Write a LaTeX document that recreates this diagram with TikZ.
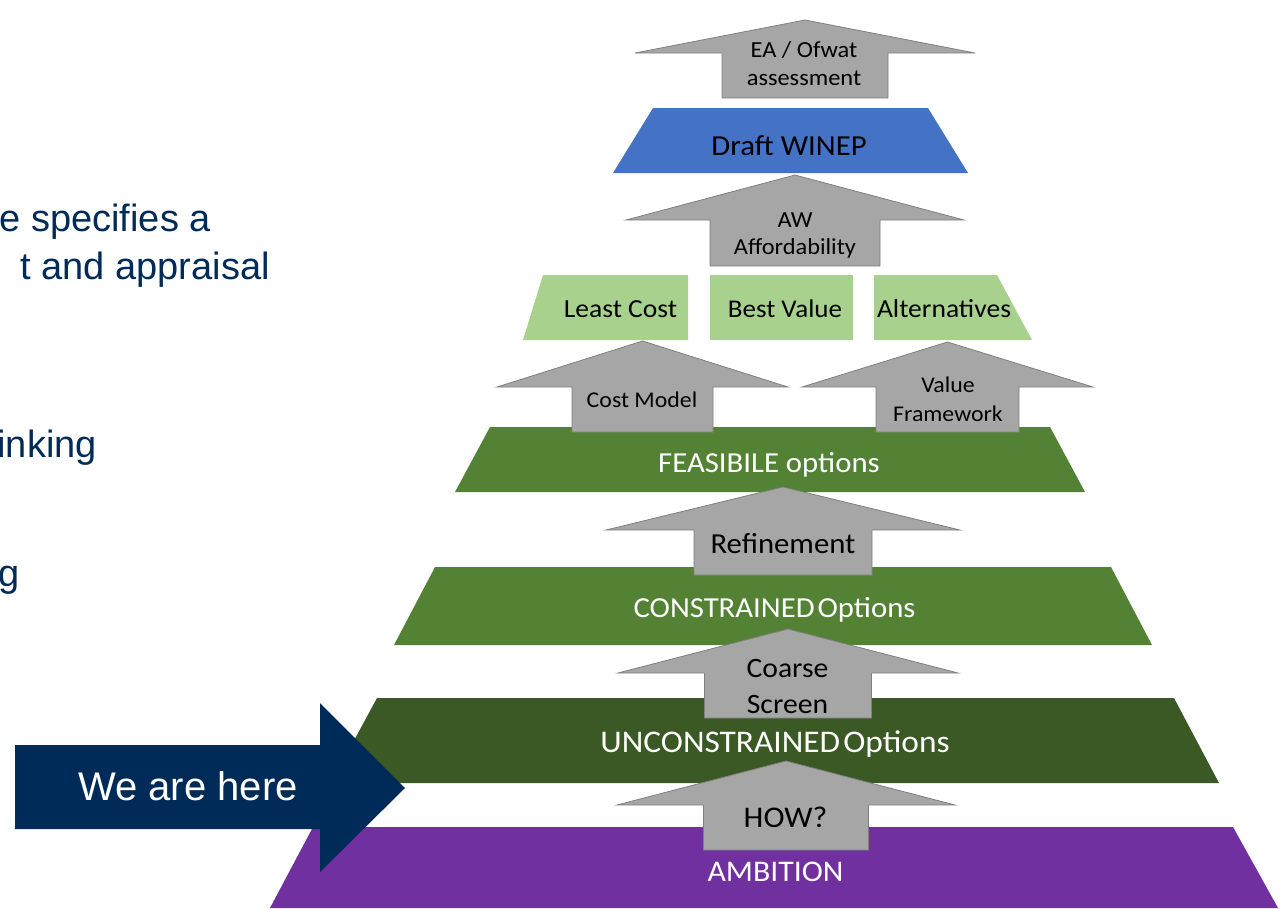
\documentclass[tikz,border=0pt]{standalone}
\usepackage{fontspec}
\setmainfont{Carlito}[FakeStretch=1.06]
\newfontfamily\arialf{Liberation Sans}
\definecolor{navy}{RGB}{0,42,88}
\definecolor{agray}{RGB}{166,166,166}
\definecolor{aedge}{RGB}{128,128,128}
\definecolor{wblue}{RGB}{68,114,196}
\definecolor{lgreen}{RGB}{169,209,142}
\definecolor{mgreen}{RGB}{84,130,53}
\definecolor{dgreen}{RGB}{59,89,36}
\definecolor{purp}{RGB}{112,48,160}
\newcommand\fsz[2]{\fontsize{#1}{#2}\selectfont}
\newcommand\grayarrow[7]{% name, cx, apex, base, halfhead, halfshaft, bottom
  \path[garrow] (#2,#3) -- (#2+#5,#4) -- (#2+#6,#4) -- (#2+#6,#7) -- (#2-#6,#7) -- (#2-#6,#4) -- (#2-#5,#4) -- cycle;
  \coordinate (#1) at (#2,#7);
}
\tikzset{
  garrow/.style={fill=agray, draw=aedge, line width=0.8pt, line join=miter},
  lbl/.style={inner sep=0pt, anchor=base, align=center},
  dark/.style={lbl, text=black},
  light/.style={lbl, text=white},
  side/.style={inner sep=0pt, anchor=base east, text=navy, font=\arialf\fsz{38}{44}},
}
\begin{document}
\begin{tikzpicture}[x=1pt,y=-1pt]
\useasboundingbox (0,0) rectangle (1285,908);
\clip (0,0) rectangle (1285,908);
% left side text
\node[side] (s1) at (211,231) {e specifies a};
\node[side] (s2) at (270,279) {t and appraisal};
\node[side] (s3) at (97,457) {inking};
\node[side] (s4) at (20,586) {g};
% pyramid bands
\fill[wblue] (653,108) -- (928,108) -- (968,173) -- (613,173) -- cycle;
\fill[lgreen] (543,275) -- (688,275) -- (688,340) -- (523,340) -- cycle;
\fill[lgreen] (710,275) -- (853,275) -- (853,340) -- (710,340) -- cycle;
\fill[lgreen] (874,275) -- (997,275) -- (1032,340) -- (874,340) -- cycle;
\fill[mgreen] (490,427) -- (1050,427) -- (1085,492) -- (455,492) -- cycle;
\fill[mgreen] (435,567) -- (1111,567) -- (1152,645) -- (394,645) -- cycle;
\fill[dgreen] (377,698) -- (1174,698) -- (1219,783) -- (331,783) -- cycle;
\fill[purp] (313,827) -- (1233,827) -- (1278,908) -- (270,908) -- cycle;
% gray arrows
\grayarrow{aEA}{805}{20}{53}{170}{83}{98}
\grayarrow{aAW}{795}{175}{220}{169}{85}{266}
\grayarrow{aCM}{642.5}{341}{387}{145.5}{70.5}{432}
\grayarrow{aVF}{947.5}{342}{387}{145.5}{71.5}{432}
\grayarrow{aRF}{783}{487}{530}{177}{89}{575}
\grayarrow{aCS}{788}{629}{673}{170}{83.5}{718}
\grayarrow{aHW}{786}{761}{805}{169}{82.5}{850}
% labels (two-line labels are placed by their last baseline)
\node[dark, font=\fsz{23}{28}] (tEA) at (804,85) {EA / Ofwat\\assessment};
\node[dark, font=\fsz{29}{34}] (tDW) at (789,155) {Draft WINEP};
\node[dark, font=\fsz{23}{27}] (tAW) at (795,254) {AW\\Affordability};
\node[dark, font=\fsz{26}{31}] (tLC) at (620.5,317) {Least Cost};
\node[dark, font=\fsz{25.5}{31}] (tBV) at (785,317) {Best Value};
\node[dark, font=\fsz{26}{31}] (tAL) at (944,317) {Alternatives};
\node[dark, font=\fsz{22.5}{28}] (tCM) at (642,407) {Cost Model};
\node[dark, font=\fsz{22.5}{29}] (tVF) at (948,421) {Value\\Framework};
\node[light, font=\fsz{29}{34}] (tFE) at (769,472) {FEASIBILE options};
\node[dark, font=\fsz{29}{34}] (tRF) at (783,553) {Refinement};
\node[light, font=\fsz{29}{34}] (tCO) at (774.5,617) {CONSTRAINED\hspace{0.1em}Options};
\node[dark, font=\fsz{28}{36}] (tCS) at (787.5,713) {Coarse\\Screen};
\node[light, font=\fsz{31.5}{36}] (tUN) at (775,752) {UNCONSTRAINED\hspace{0.1em}Options};
\node[dark, font=\fsz{30}{36}] (tHW) at (785.5,827) {HOW?};
\node[light, font=\fsz{30}{36}] (tAM) at (775.5,881) {AMBITION};
% we are here
\fill[navy] (15,745) -- (320,745) -- (320,703) -- (405,788) -- (320,872) -- (320,829) -- (15,829) -- cycle;
\node[inner sep=0pt, anchor=base, text=white, font=\arialf\fsz{40}{46}] (here) at (188,800) {We are here};
\end{tikzpicture}
\end{document}
